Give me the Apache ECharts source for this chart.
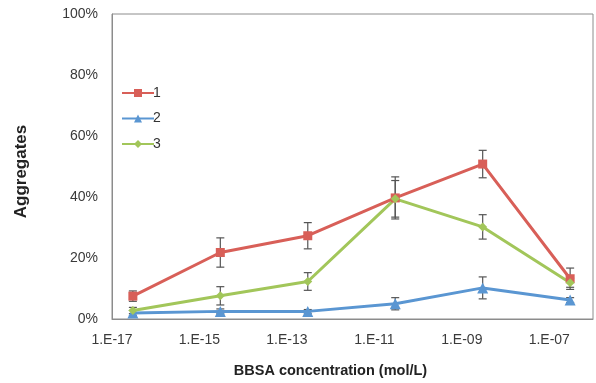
<!DOCTYPE html>
<html><head><meta charset="utf-8">
<script src="https://cdn.jsdelivr.net/npm/echarts@6/dist/echarts.min.js"></script>
<style>html,body{margin:0;padding:0;background:#fff}#c{width:596px;height:383px}</style>
</head><body><div id="c"></div>
<script>
const concentrations = [3e-17, 3e-15, 3e-13, 3e-11, 3e-9, 3e-7];
const series1 = [7.5, 21.8, 27.3, 39.7, 50.8, 13.2];
const series2 = [2.0, 2.5, 2.5, 5.0, 10.2, 6.2];
const series3 = [2.8, 7.6, 12.3, 39.4, 30.2, 11.9];
const err1 = [1.7, 4.8, 4.3, 6.9, 4.5, 3.5];
const err2 = [0.8, 0.8, 0.6, 2.0, 3.6, 0.8];
const err3 = [1.0, 3.0, 2.9, 6.0, 4.0, 1.5];
const seriesNames = ['1', '2', '3'];
const colors = ['#D85F58', '#5A96D2', '#A2C65A'];

const chart = echarts.init(document.getElementById('c'));
const font = 'Liberation Sans, Arial, sans-serif';

function pairs(vals){ return concentrations.map((c,i)=>[c, vals[i]]); }
function errData(vals, errs){ return concentrations.map((c,i)=>[c, vals[i]-errs[i], vals[i]+errs[i]]); }

function errSeries(vals, errs){
  return {
    type: 'custom', silent: true, z: 1,
    data: errData(vals, errs),
    encode: {x: 0, y: [1, 2]},
    renderItem: function(params, api){
      const lo = api.coord([api.value(0), api.value(1)]);
      const hi = api.coord([api.value(0), api.value(2)]);
      const w = 4;
      const st = {stroke: '#555', lineWidth: 1.2};
      return {type: 'group', children: [
        {type: 'line', shape: {x1: lo[0], y1: lo[1], x2: hi[0], y2: hi[1]}, style: st},
        {type: 'line', shape: {x1: lo[0]-w, y1: lo[1], x2: lo[0]+w, y2: lo[1]}, style: st},
        {type: 'line', shape: {x1: hi[0]-w, y1: hi[1], x2: hi[0]+w, y2: hi[1]}, style: st}
      ]};
    }
  };
}

function lineSeries(name, vals, color, symbol, size){
  return {
    name: name, type: 'line', data: pairs(vals), z: 3,
    symbol: symbol, symbolSize: size,
    lineStyle: {color: color, width: 3},
    itemStyle: {color: color},
    emphasis: {disabled: true}
  };
}

chart.setOption({
  animation: false,
  textStyle: {fontFamily: font},
  grid: {left: 112, right: 0, top: 14, bottom: 64, show: true, borderColor: '#8c8c8c', borderWidth: 1},
  legend: {
    orient: 'vertical', left: 116, top: 81, itemGap: 11.5, itemWidth: 32, itemHeight: 10,
    data: seriesNames,
    textStyle: {fontSize: 14, color: '#333', fontFamily: font, padding: [0,0,0,-6]}
  },
  xAxis: {
    type: 'log', logBase: 10, min: 1e-17, max: 1e-6, interval: 1,
    name: 'BBSA concentration (mol/L)', nameLocation: 'middle', nameGap: 44,
    nameTextStyle: {fontSize: 14.5, fontWeight: 'bold', color: '#222', fontFamily: font, padding: [0, 44, 0, 0]},
    axisLine: {lineStyle: {color: '#8c8c8c'}},
    axisTick: {show: false},
    splitLine: {show: false},
    axisLabel: {
      fontSize: 14, color: '#3a3a3a', margin: 14, showMaxLabel: true, showMinLabel: true,
      formatter: function(v){
        const e = Math.round(Math.log10(v));
        if (e % 2 === 0) return '';
        const a = Math.abs(e);
        return '1.E' + (e < 0 ? '-' : '+') + (a < 10 ? '0' + a : a);
      }
    }
  },
  yAxis: {
    type: 'value', min: 0, max: 100, interval: 20,
    name: 'Aggregates', nameLocation: 'middle', nameGap: 82, nameRotate: 90,
    nameTextStyle: {fontSize: 17, fontWeight: 'bold', color: '#222', fontFamily: font, padding: [0, 10, 0, 0]},
    axisLine: {show: true, lineStyle: {color: '#8c8c8c'}},
    axisTick: {show: false},
    splitLine: {show: false},
    axisLabel: {fontSize: 14, color: '#3a3a3a', margin: 14, formatter: '{value}%'}
  },
  series: [
    errSeries(series1, err1),
    errSeries(series2, err2),
    errSeries(series3, err3),
    lineSeries(seriesNames[0], series1, colors[0], 'rect', 9),
    lineSeries(seriesNames[1], series2, colors[1], 'triangle', 11),
    lineSeries(seriesNames[2], series3, colors[2], 'diamond', 9)
  ]
});
</script>
</body></html>
